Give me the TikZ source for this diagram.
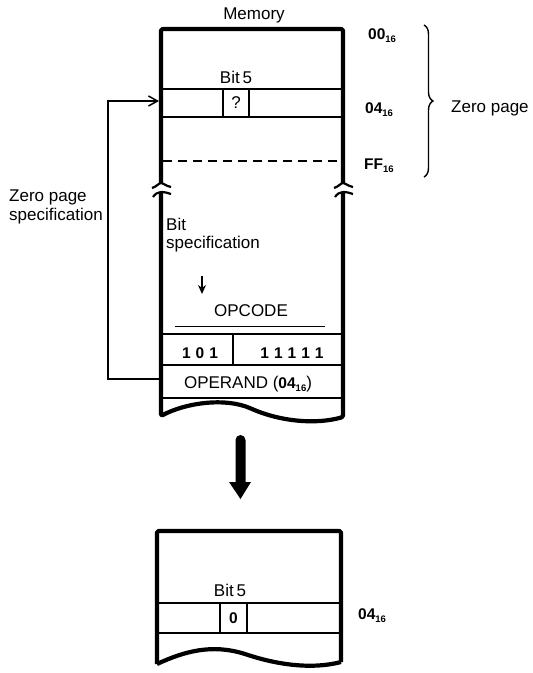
\documentclass[tikz,border=0pt]{standalone}
\usepackage{fontspec}
\setmainfont{Liberation Sans}
\usetikzlibrary{arrows.meta,decorations.pathreplacing}
\newcommand{\sixteen}{\raisebox{-3pt}{\fontsize{9.5}{10}\selectfont\bfseries 16}}
\newcommand{\hexlab}[1]{\fontsize{15.5}{17}\selectfont\bfseries #1\sixteen}
\tikzset{
  boxline/.style={line width=4.2pt, line join=round, rounded corners=1.5pt},
  rowline/.style={line width=1.4pt},
  breakline/.style={line width=2.2pt},
  lbl/.style={inner sep=0pt, font=\fontsize{17}{19}\selectfont},
  blbl/.style={inner sep=0pt, font=\fontsize{15.5}{17}\selectfont\bfseries},
  conn/.style={line width=1.3pt},
}
\begin{document}
\begin{tikzpicture}[x=1pt,y=-1pt]
\useasboundingbox (0,0) rectangle (533,673);

% ---------- upper memory box ----------
\draw[boxline] (161,183) -- (161,29) -- (343,29) -- (343,183);
\draw[boxline] (161,192) -- (161,416)
   .. controls (185,403) and (225,397) .. (252,409)
   .. controls (280,421) and (315,425) .. (343,417) -- (343,192);
% break marks
\foreach \X in {161,343}{
  \draw[breakline] (\X-9,188) .. controls (\X-5,187) and (\X-2,183) .. (\X,183)
        .. controls (\X+2,183) and (\X+5,186) .. (\X+10,187);
  \draw[breakline] (\X-8,197) .. controls (\X-6,194) and (\X-3,192) .. (\X,192)
        .. controls (\X+4,192) and (\X+7,193) .. (\X+10,194);
}
% zero page rows
\draw[rowline] (161,89) -- (343,89);
\draw[rowline] (161,117) -- (343,117);
\draw[rowline] (223,89) -- (223,117);
\draw[rowline] (249,89) -- (249,117);
\draw[rowline, dash pattern=on 9pt off 6pt] (163,161) -- (341,161);
% opcode/operand rows
\draw[line width=1pt] (175,326) -- (325,326);
\draw[rowline] (161,334) -- (343,334);
\draw[rowline] (161,365) -- (343,365);
\draw[rowline] (161,398) -- (343,398);
\draw[rowline] (233,334) -- (233,365);

% texts upper box
\node[lbl, anchor=base] (memory) at (254,19) {Memory};
\node[lbl, anchor=base] (bit5a) at (236,83) {Bit\,5};
\node[lbl] (qmark) at (236,103) {?};
\node[blbl, anchor=base west] (h00) at (368,39) {\hexlab{00}};
\node[blbl, anchor=base west] (h04) at (365,113) {\hexlab{04}};
\node[blbl, anchor=base west] (hFF) at (364,169) {\hexlab{FF}};
\draw[line width=1.4pt, decorate, decoration={brace, amplitude=9pt}] (424,25) -- (424,177);
\node[lbl, anchor=base west] (zp) at (451,112) {Zero page};

\node[lbl, anchor=base west, align=left, font=\fontsize{17}{19}\selectfont] (zps) at (9,220) {Zero page\\specification};
\node[lbl, anchor=base west, align=left, font=\fontsize{17}{17.5}\selectfont] (bitspec) at (166,248) {Bit\\specification};
\coordinate (sa1) at (202,276);
\coordinate (sa2) at (202,294);
\draw[line width=2.2pt, -{Stealth[length=9pt,width=8pt]}] (sa1) -- (sa2);
\node[lbl, anchor=base] (opcode) at (251,316) {OPCODE};
\node[blbl, anchor=base] (b101) at (200,358) {1\hspace{5pt}0\hspace{5pt}1};
\node[blbl, anchor=base] (b11111) at (292,358) {1\hspace{5pt}1\hspace{5pt}1\hspace{5pt}1\hspace{5pt}1};
\node[lbl, anchor=base] (operand) at (248,388) {OPERAND (\textbf{\fontsize{15.5}{17}\selectfont 04}\sixteen)};

% feedback connector
\coordinate (fbstart) at (161,379);
\coordinate (fbend) at (159,101);
\draw[conn, -{Straight Barb[length=9pt,width=10pt,line width=1.5pt]}] (fbstart) -- (108,379) -- (108,101) -- (fbend);

% big arrow
\fill (235.5,440) arc[start angle=180, end angle=360, x radius=5pt, y radius=-5pt] -- (245.5,482) -- (251,482) -- (240.5,499) -- (229,482) -- (235.5,482) -- cycle;

% ---------- lower memory box ----------
\draw[boxline] (157,664) -- (157,531) -- (341,531) -- (341,662);
\draw[boxline] (157,664) .. controls (185,651) and (212,644) .. (245,654)
   .. controls (275,664) and (310,670) .. (341,662);
\draw[rowline] (157,603) -- (341,603);
\draw[rowline] (157,633) -- (341,633);
\draw[rowline] (220,603) -- (220,633);
\draw[rowline] (247,603) -- (247,633);
\node[lbl, anchor=base] (bit5b) at (230,596) {Bit\,5};
\node[blbl] (zero) at (233.5,618) {0};
\node[blbl, anchor=base west] (h04b) at (358,619) {\hexlab{04}};
\end{tikzpicture}
\end{document}
